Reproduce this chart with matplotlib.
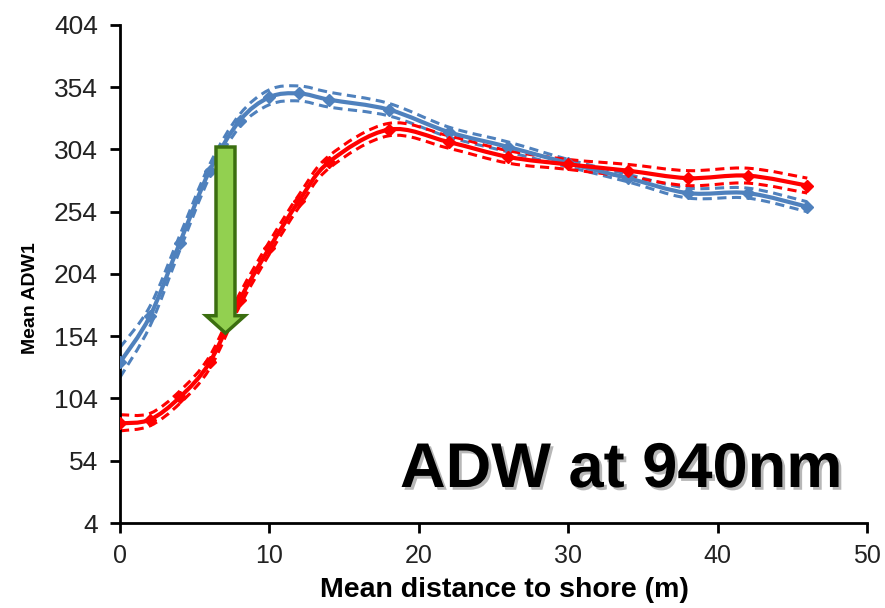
import numpy as np
import matplotlib
matplotlib.use("Agg")
import matplotlib.pyplot as plt
import matplotlib.patheffects as pe
from matplotlib.path import Path
from matplotlib.patches import PathPatch, FancyArrow

plt.rcParams['font.family'] = ['Liberation Sans', 'DejaVu Sans']

# distance to shore (m)
dist = [0, 2, 4, 6, 8, 10, 12, 14, 18, 22, 26, 30, 34, 38, 42, 46]

# blue series (before)
blue_mean = [133, 170, 229, 287, 327, 346, 349, 344, 336, 318, 306, 293, 281, 269, 269, 258]
blue_upper = [145, 178, 235, 292, 332, 352, 355, 350, 341, 322, 310, 296, 284, 273, 273, 262]
blue_lower = [121, 162, 223, 282, 322, 340, 343, 338, 331, 314, 302, 290, 278, 265, 265, 254]

# red series (after)
red_mean = [84, 87, 105, 133, 183, 225, 263, 294, 320, 310, 298, 292, 287, 281, 283, 275]
red_upper = [91, 92, 110, 138, 188, 230, 268, 299, 325, 315, 303, 296, 292, 287, 289, 281]
red_lower = [78, 82, 100, 128, 178, 220, 258, 289, 315, 305, 293, 288, 282, 275, 277, 269]

yticks = [4, 54, 104, 154, 204, 254, 304, 354, 404]
xticks = [0, 10, 20, 30, 40, 50]

BLUE = '#4F81BD'
RED = '#FF0000'


def smooth_path(x, y, t=1/6):
    # Excel-style smoothed line: cubic bezier through the points
    pts = np.column_stack([x, y]).astype(float)
    n = len(pts)
    verts = [pts[0]]
    codes = [Path.MOVETO]
    for i in range(n - 1):
        p0 = pts[max(i - 1, 0)]
        p1 = pts[i]
        p2 = pts[i + 1]
        p3 = pts[min(i + 2, n - 1)]
        verts += [p1 + (p2 - p0) * t, p2 - (p3 - p1) * t, p2]
        codes += [Path.CURVE4] * 3
    return Path(verts, codes)


fig = plt.figure(figsize=(8.85, 6.08), dpi=100)
ax = fig.add_axes([0.1356, 0.1398, 0.8441, 0.8191])

for mean, up, lo, col in [(blue_mean, blue_upper, blue_lower, BLUE),
                          (red_mean, red_upper, red_lower, RED)]:
    for band in (up, lo):
        ax.add_patch(PathPatch(smooth_path(dist, band), fill=False,
                               edgecolor=col, lw=2.2,
                               linestyle=(0, (3, 1.8)), zorder=2))
    ax.add_patch(PathPatch(smooth_path(dist, mean), fill=False,
                           edgecolor=col, lw=3.0, zorder=3))
    ax.plot(dist, mean, ls='none', marker='D', ms=6.5, color=col, zorder=3)

# green arrow showing the shift
arrow = FancyArrow(7.06, 306, 0, -149.5, width=1.27, head_width=2.6,
                   head_length=14, length_includes_head=True,
                   facecolor='#92D050', edgecolor='#3B6E10', lw=2.5, zorder=5)
ax.add_patch(arrow)

ax.set_xlim(0, 50)
ax.set_ylim(4, 404)
ax.set_xticks(xticks)
ax.set_yticks(yticks)
ax.tick_params(axis='both', direction='out', length=7, width=2,
               colors='black', labelcolor='#222222')
ax.tick_params(axis='y', labelsize=19, pad=9)
ax.tick_params(axis='x', labelsize=18, pad=8)
ax.spines['top'].set_visible(False)
ax.spines['right'].set_visible(False)
for s in ('left', 'bottom'):
    ax.spines[s].set_linewidth(2)

ax.set_xlabel('Mean distance to shore (m)', fontsize=20.5, fontweight='bold', va='center')
ax.xaxis.set_label_coords(0.515, -0.135)
ax.set_ylabel('Mean ADW1', fontsize=14, fontweight='bold', va='center')
ax.yaxis.set_label_coords(-0.12, 0.452)

fig.text(400 / 885, 1 - 487 / 608, 'ADW at 940nm', fontsize=45.5, fontweight='bold',
         va='baseline', ha='left', color='black',
         path_effects=[pe.withSimplePatchShadow(offset=(2, -2), shadow_rgbFace='#888888', alpha=0.6)])

fig.savefig('out.png', dpi=100)
